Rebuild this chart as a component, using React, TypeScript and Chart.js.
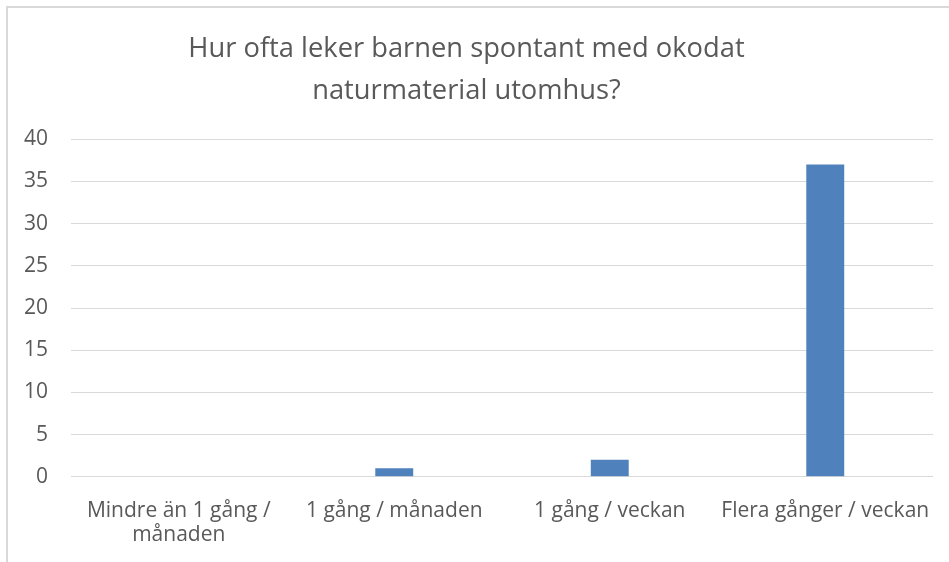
import React, { useEffect, useRef } from "react";
import { Chart, registerables } from "chart.js";

Chart.register(...registerables);

const titleLines = ["Hur ofta leker barnen spontant med okodat", "naturmaterial utomhus?"];
const categories: (string | string[])[] = [
  ["Mindre än 1 gång /", "månaden"],
  "1 gång / månaden",
  "1 gång / veckan",
  "Flera gånger / veckan",
];
const values = [0, 1, 2, 37];
const yMin = 0;
const yMax = 40;
const yStep = 5;

const FONT = "'Open Sans', Lato, sans-serif";
const TEXT = "#595959";
const GRID = "#d9d9d9";
const BAR = "#4f81bd";

const borderPlugin = {
  id: "frame",
  beforeDraw(chart: any) {
    const ctx = chart.ctx;
    ctx.save();
    ctx.fillStyle = "#ffffff";
    ctx.fillRect(0, 0, chart.width, chart.height);
    ctx.strokeStyle = GRID;
    ctx.lineWidth = 2;
    ctx.strokeRect(7, 7, 1200, 1200);
    ctx.restore();
  },
};

export default function App() {
  const ref = useRef<HTMLCanvasElement>(null);
  useEffect(() => {
    if (!ref.current) return;
    const chart = new Chart(ref.current, {
      type: "bar",
      data: {
        labels: categories,
        datasets: [
          {
            data: values,
            backgroundColor: BAR,
            borderWidth: 0,
            barPercentage: 0.176,
            categoryPercentage: 1,
          },
        ],
      },
      options: {
        responsive: false,
        animation: false,
        devicePixelRatio: 1,
        layout: { padding: { left: 0, right: 16, top: 0, bottom: 0 } },
        plugins: {
          legend: { display: false },
          tooltip: { enabled: false },
          title: {
            display: true,
            text: titleLines,
            color: TEXT,
            font: { family: FONT, size: 27.3, weight: "normal", lineHeight: "42px" },
            padding: { top: 28, bottom: 27.3 },
          },
        },
        scales: {
          x: {
            grid: { display: false },
            border: { display: false },
            ticks: {
              color: TEXT,
              font: { family: FONT, size: 21, lineHeight: 1.12 },
              padding: 15,
              maxRotation: 0,
              autoSkip: false,
            },
            afterFit(scale: any) {
              scale.height = 85.3;
            },
          },
          y: {
            min: yMin,
            max: yMax,
            grid: { color: GRID, lineWidth: 1, drawTicks: false },
            border: { display: false },
            ticks: {
              stepSize: yStep,
              color: TEXT,
              font: { family: FONT, size: 21 },
              padding: 23,
            },
            afterFit(scale: any) {
              scale.width = 71;
            },
          },
        },
      },
      plugins: [borderPlugin],
    });
    return () => chart.destroy();
  }, []);
  return (
    <div style={{ position: "fixed", left: 0, top: 0, width: 949, height: 562, overflow: "hidden", background: "#fff" }}>
      <canvas ref={ref} width={949} height={562} style={{ width: 949, height: 562, display: "block" }} />
    </div>
  );
}
